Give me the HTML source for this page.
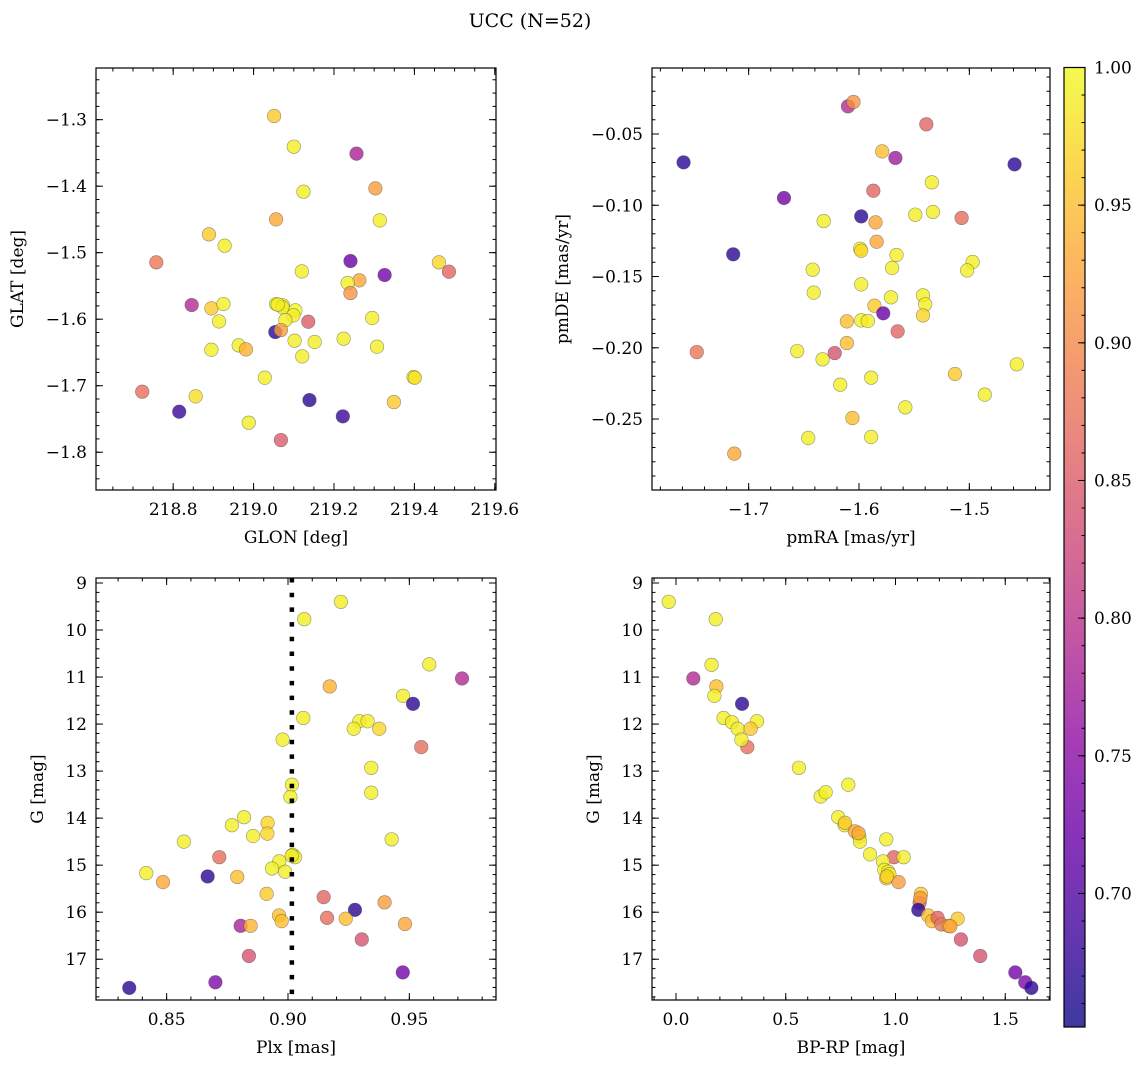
<!DOCTYPE html>
<html><head><meta charset="utf-8"><style>
html,body{margin:0;padding:0;background:#fff;}
svg{display:block;font-family:"DejaVu Serif","Liberation Serif",serif;}
</style></head><body>
<svg id="fig" width="1148" height="1067" viewBox="0 0 1148 1067" xmlns="http://www.w3.org/2000/svg">
<rect width="1148" height="1067" fill="#fff"/>
<text x="530" y="27" font-size="19" text-anchor="middle">UCC (N=52)</text>
</svg>
<script>
// ---------- data ----------
const glon=[219.051,219.100,219.256,219.124,219.303,219.056,219.314,218.889,218.928,218.758,219.241,219.120,219.461,219.486,219.326,219.263,219.234,219.241,218.846,218.895,218.925,219.056,219.073,219.072,219.104,219.099,219.079,219.136,218.914,219.295,219.054,219.068,219.102,219.152,219.224,219.307,218.895,218.963,218.981,219.121,219.028,219.398,219.401,218.723,218.856,219.139,219.349,218.815,219.222,218.988,219.068,219.060];
const glat=[-1.2945,-1.3406,-1.3511,-1.4083,-1.4033,-1.4499,-1.4514,-1.4724,-1.4895,-1.5145,-1.5125,-1.5281,-1.5145,-1.5286,-1.5336,-1.5416,-1.5456,-1.5607,-1.5787,-1.5837,-1.5772,-1.5772,-1.5792,-1.5822,-1.5867,-1.5942,-1.6013,-1.6038,-1.6033,-1.5982,-1.6193,-1.6163,-1.6323,-1.6343,-1.6293,-1.6414,-1.6459,-1.6393,-1.6454,-1.6559,-1.6880,-1.6870,-1.6880,-1.7090,-1.7160,-1.7216,-1.7246,-1.7391,-1.7461,-1.7556,-1.7817,-1.578];
const probA=[.96,.99,.78,.99,.92,.93,.99,.96,.99,.88,.72,.99,.97,.86,.73,.93,.99,.91,.79,.96,.99,.99,.99,.99,1,.99,.99,.85,.99,.99,.67,.92,.99,.99,.99,.99,.99,.99,.94,.99,.99,1,.98,.87,.98,.67,.96,.68,.68,.99,.85,.99];

const pmra=[-1.759,-1.610,-1.605,-1.539,-1.579,-1.567,-1.459,-1.534,-1.668,-1.587,-1.598,-1.632,-1.585,-1.549,-1.533,-1.507,-1.714,-1.584,-1.599,-1.598,-1.566,-1.642,-1.570,-1.497,-1.502,-1.598,-1.641,-1.571,-1.542,-1.540,-1.542,-1.586,-1.578,-1.611,-1.598,-1.592,-1.565,-1.611,-1.747,-1.656,-1.622,-1.633,-1.457,-1.513,-1.589,-1.617,-1.486,-1.558,-1.606,-1.646,-1.589,-1.713];
const pmde=[-0.0699,-0.0306,-0.0275,-0.0432,-0.0622,-0.0668,-0.0713,-0.0839,-0.0949,-0.0898,-0.1078,-0.1111,-0.1120,-0.1066,-0.1047,-0.1089,-0.1344,-0.1256,-0.1305,-0.1319,-0.1349,-0.1452,-0.1440,-0.1398,-0.1457,-0.1555,-0.1613,-0.1646,-0.1632,-0.1695,-0.1773,-0.1705,-0.1758,-0.1815,-0.1808,-0.1812,-0.1885,-0.1967,-0.2030,-0.2023,-0.2037,-0.2081,-0.2116,-0.2184,-0.2210,-0.2259,-0.2329,-0.2418,-0.2493,-0.2633,-0.2626,-0.2743];
const probB=[.67,.79,.91,.86,.95,.77,.67,.99,.73,.86,.67,.99,.93,.99,.99,.87,.67,.93,1,.97,.99,.99,.99,.99,.99,.99,.99,.99,.99,.99,.97,.96,.72,.95,.99,.99,.86,.95,.88,.99,.84,.99,.99,.96,.99,.99,.99,.99,.95,.99,.99,.93];

const plx=[0.9218,0.9067,0.9582,0.9717,0.9172,0.9474,0.9515,0.9063,0.9294,0.9328,0.9271,0.9376,0.9549,0.8978,0.9343,0.9016,0.9010,0.9343,0.8819,0.8769,0.8916,0.8915,0.8856,0.8571,0.9427,0.8717,0.9019,0.9029,0.8964,0.8934,0.8988,0.8416,0.8485,0.8669,0.8791,0.8912,0.9147,0.9398,0.9276,0.8963,0.8974,0.9161,0.9238,0.8805,0.8846,0.9482,0.9304,0.8839,0.9473,0.8701,0.8346,0.9015];
const gmagC=[9.40,9.77,10.73,11.03,11.20,11.40,11.57,11.87,11.94,11.94,12.10,12.10,12.49,12.33,12.93,13.29,13.55,13.46,13.98,14.15,14.10,14.33,14.38,14.50,14.45,14.83,14.78,14.83,14.92,15.07,15.14,15.17,15.36,15.24,15.25,15.61,15.68,15.79,15.95,16.07,16.19,16.12,16.14,16.29,16.29,16.25,16.58,16.93,17.28,17.49,17.61,14.80];
const probC=[.99,.99,.99,.79,.94,.99,.67,.99,.99,.99,.99,.97,.87,.99,.99,.99,.99,.99,.99,.99,.97,.97,.99,.99,.99,.87,1,.99,.99,.99,.99,.99,.93,.67,.95,.96,.86,.92,.67,.95,.95,.87,.95,.78,.94,.93,.84,.84,.73,.74,.67,.99];
const plxMean=0.9016;

const bprp=[-0.033,0.181,0.162,0.079,0.184,0.175,0.301,0.217,0.255,0.369,0.281,0.340,0.325,0.298,0.560,0.785,0.659,0.682,0.739,0.768,0.770,0.815,0.835,0.838,0.958,0.993,0.943,1.037,0.884,0.949,0.967,0.972,0.958,1.014,0.961,1.116,1.110,1.113,1.104,1.149,1.166,1.192,1.283,1.209,1.242,1.250,1.298,1.386,1.546,1.591,1.619,0.832];
const gmagD=[9.40,9.77,10.74,11.03,11.20,11.40,11.57,11.87,11.96,11.94,12.10,12.10,12.49,12.33,12.93,13.29,13.54,13.45,13.98,14.15,14.10,14.28,14.39,14.50,14.45,14.83,14.92,14.83,14.77,15.10,15.14,15.19,15.28,15.36,15.24,15.61,15.80,15.70,15.95,16.07,16.19,16.12,16.14,16.26,16.29,16.30,16.58,16.93,17.28,17.49,17.61,14.32];
const probD=[.99,.99,.99,.79,.95,.99,.67,.99,.99,.99,.99,.96,.87,.99,.99,.99,.99,.99,.99,.99,.96,.93,.99,.99,.99,.86,.99,.99,.99,.99,.99,.99,.96,.92,.97,.96,.86,.92,.67,.95,.95,.86,.96,.88,.93,.93,.84,.84,.73,.74,.67,.93];

const ticksGlon=[218.8,219.0,219.2,219.4,219.6];
const ticksGlat=[-1.8,-1.7,-1.6,-1.5,-1.4,-1.3];
const ticksPmra=[-1.7,-1.6,-1.5];
const ticksPmde=[-0.25,-0.20,-0.15,-0.10,-0.05];
const ticksPlx=[0.85,0.90,0.95];
const ticksG=[9,10,11,12,13,14,15,16,17];
const ticksBprp=[0.0,0.5,1.0,1.5];
const ticksCbar=[0.70,0.75,0.80,0.85,0.90,0.95,1.00];
const cbarMin=0.6515, cbarMax=1.0;

// ---------- helpers ----------
const NS="http://www.w3.org/2000/svg";
const svg=document.getElementById('fig');
const FS=17;
function mk(tag,attrs,parent){const e=document.createElementNS(NS,tag);for(const k in attrs)e.setAttribute(k,attrs[k]);(parent||svg).appendChild(e);return e;}
const plasma=[[0,[13,8,135]],[0.1,[65,4,157]],[0.2,[106,0,168]],[0.3,[143,13,164]],[0.4,[177,42,144]],[0.5,[204,71,120]],[0.6,[225,100,98]],[0.7,[242,132,75]],[0.8,[252,166,54]],[0.9,[252,206,37]],[1.0,[240,249,33]]];
function cmap(t){t=Math.max(0,Math.min(1,t));for(let i=1;i<plasma.length;i++){if(t<=plasma[i][0]){const a=plasma[i-1],b=plasma[i];const f=(t-a[0])/(b[0]-a[0]);const c=a[1].map((v,j)=>Math.round(v+(b[1][j]-v)*f));return `rgb(${c[0]},${c[1]},${c[2]})`;}}return 'rgb(240,249,33)';}
function fmt(v,d){const s=Math.abs(v).toFixed(d);return (v<-1e-9?'\u2212':'')+s;}
function lin(d0,d1,r0,r1){return v=>r0+(v-d0)/(d1-d0)*(r1-r0);}

function panel(o){
  const g=mk('g',{});
  
  
  const sx=lin(o.xd[0],o.xd[1],o.L,o.R), sy=lin(o.yd[0],o.yd[1],o.B,o.T);
  const clip=mk('clipPath',{id:'clip-'+o.name},g);
  mk('rect',{x:o.L,y:o.T,width:o.R-o.L,height:o.B-o.T},clip);
  const pts=mk('g',{'clip-path':'url(#clip-'+o.name+')'},g);
  
  
  for(let i=0;i<o.xs.length;i++){
    const c=mk('circle',{cx:sx(o.xs[i]).toFixed(2),cy:sy(o.ys[i]).toFixed(2),r:6.8,fill:cmap((o.cs[i]-cbarMin)/(cbarMax-cbarMin)),'fill-opacity':0.8,stroke:'rgba(70,70,70,0.55)','stroke-width':0.6},pts);
    
    
  }
  if(o.vline!==undefined){
    const l=mk('line',{x1:sx(o.vline),x2:sx(o.vline),y1:o.T,y2:o.B,stroke:'#000','stroke-width':4.5,'stroke-dasharray':'4.5 10.2'},g);
    
    
  }
  const tk=mk('g',{stroke:'#000','stroke-width':1},g);
  const xa=Math.min(o.xd[0],o.xd[1]), xb=Math.max(o.xd[0],o.xd[1]);
  for(let v=Math.ceil(xa/o.xm-1e-6)*o.xm; v<=xb+1e-9; v+=o.xm){const x=sx(v);mk('line',{x1:x,x2:x,y1:o.B,y2:o.B-3.5},tk);mk('line',{x1:x,x2:x,y1:o.T,y2:o.T+3.5},tk);}
  const ya=Math.min(o.yd[0],o.yd[1]), yb=Math.max(o.yd[0],o.yd[1]);
  for(let v=Math.ceil(ya/o.ym-1e-6)*o.ym; v<=yb+1e-9; v+=o.ym){const y=sy(v);mk('line',{x1:o.L,x2:o.L+3.5,y1:y,y2:y},tk);mk('line',{x1:o.R,x2:o.R-3.5,y1:y,y2:y},tk);}
  o.xt.forEach(v=>{const x=sx(v);mk('line',{x1:x,x2:x,y1:o.B,y2:o.B-7},tk);mk('line',{x1:x,x2:x,y1:o.T,y2:o.T+7},tk);
    const t=mk('text',{x:x,y:o.B+25,'font-size':FS,'text-anchor':'middle'},g);t.textContent=fmt(v,o.xdig);
    
    });
  o.yt.forEach(v=>{const y=sy(v);mk('line',{x1:o.L,x2:o.L+7,y1:y,y2:y},tk);mk('line',{x1:o.R,x2:o.R-7,y1:y,y2:y},tk);
    const t=mk('text',{x:o.L-9,y:y+6,'font-size':FS,'text-anchor':'end'},g);t.textContent=fmt(v,o.ydig);
    
    });
  const fr=mk('rect',{x:o.L,y:o.T,width:o.R-o.L,height:o.B-o.T,fill:'none',stroke:'#000','stroke-width':1.2},g);
  
  
  const xl=mk('text',{x:(o.L+o.R)/2,y:o.B+53,'font-size':FS,'text-anchor':'middle'},g);xl.textContent=o.xlab;
  
  
  const yc=(o.T+o.B)/2;
  const yl=mk('text',{x:o.ylx,y:yc,'font-size':FS,'text-anchor':'middle',transform:`rotate(-90 ${o.ylx} ${yc})`},g);yl.textContent=o.ylab;
  
  
}

panel({name:'glon-glat-panel',L:96,R:496,T:68,B:490,xd:[218.608,219.603],yd:[-1.8568,-1.2223],xs:glon,ys:glat,cs:probA,xt:ticksGlon,yt:ticksGlat,xm:0.05,ym:0.02,xdig:1,ydig:1,xlab:'GLON [deg]',ylab:'GLAT [deg]',ylx:23});
panel({name:'pm-panel',L:652,R:1050,T:68,B:490,xd:[-1.7876,-1.4269],yd:[-0.2998,-0.00368],xs:pmra,ys:pmde,cs:probB,xt:ticksPmra,yt:ticksPmde,xm:0.02,ym:0.01,xdig:1,ydig:2,xlab:'pmRA [mas/yr]',ylab:'pmDE [mas/yr]',ylx:568});
panel({name:'plx-g-panel',L:96,R:496,T:578,B:1000,xd:[0.8209,0.9857],yd:[17.867,8.894],xs:plx,ys:gmagC,cs:probC,xt:ticksPlx,yt:ticksG,xm:0.01,ym:0.2,xdig:2,ydig:0,xlab:'Plx [mas]',ylab:'G [mag]',ylx:43,vline:plxMean});
panel({name:'cmd-panel',L:652,R:1050,T:578,B:1000,xd:[-0.1093,1.7039],yd:[17.867,8.894],xs:bprp,ys:gmagD,cs:probD,xt:ticksBprp,yt:ticksG,xm:0.1,ym:0.2,xdig:1,ydig:0,xlab:'BP-RP [mag]',ylab:'G [mag]',ylx:599});

// ---------- colorbar ----------
const cb=mk('g',{});


const defs=mk('defs',{},cb);
const lg=mk('linearGradient',{id:'plasmaGrad',x1:0,y1:1,x2:0,y2:0},defs);
plasma.forEach(s=>{mk('stop',{offset:s[0],'stop-color':`rgb(${s[1].join(',')})`,'stop-opacity':0.8},lg);});
const CT=67.5,CB=1027,CL=1064,CR=1085;
const cs=lin(cbarMin,cbarMax,CB,CT);
mk('rect',{x:CL,y:CT,width:CR-CL,height:CB-CT,fill:'url(#plasmaGrad)'},cb);
for(let v=0.66; v<=1.0001; v+=0.01){const y=cs(v);mk('line',{x1:CR,x2:CR-3.5,y1:y,y2:y,stroke:'#000','stroke-width':1},cb);}
ticksCbar.forEach(v=>{const y=cs(v);mk('line',{x1:CR,x2:CR-7,y1:y,y2:y,stroke:'#000','stroke-width':1},cb);
  const t=mk('text',{x:1094,y:y+6,'font-size':FS},cb);t.textContent=v.toFixed(2);
  
  });
mk('rect',{x:CL,y:CT,width:CR-CL,height:CB-CT,fill:'none',stroke:'#000','stroke-width':1.2},cb);
</script>
</body></html>
